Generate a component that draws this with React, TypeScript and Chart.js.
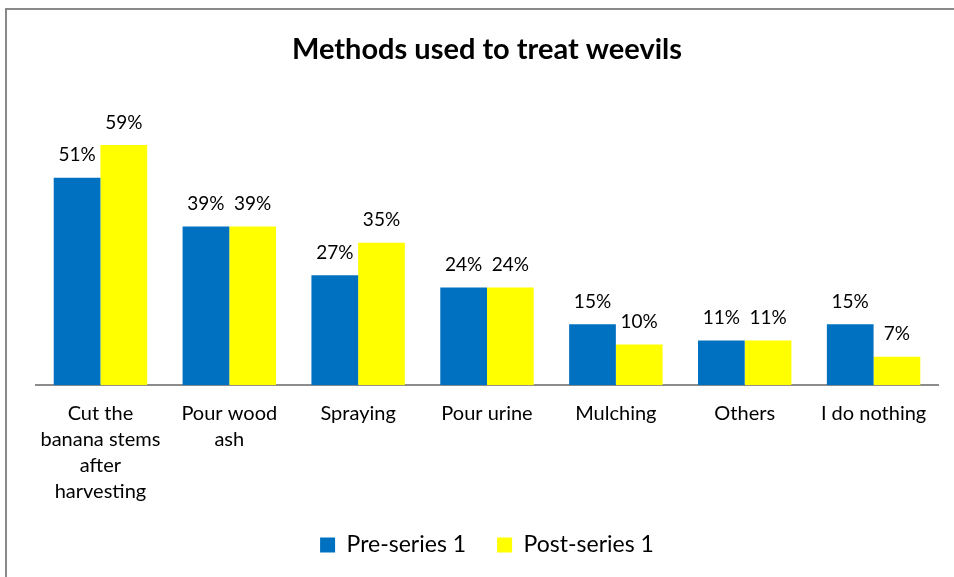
import React, { useEffect, useRef } from "react";
import { Chart, registerables } from "chart.js";

Chart.register(...registerables);

const categories: (string | string[])[] = [
  ["Cut the", "banana stems", "after", "harvesting"],
  ["Pour wood", "ash"],
  "Spraying",
  "Pour urine",
  "Mulching",
  "Others",
  "I do nothing",
];
const preSeries = [51, 39, 27, 24, 15, 11, 15];
const postSeries = [59, 39, 35, 24, 10, 11, 7];
const seriesNames = ["Pre-series 1", "Post-series 1"];
const chartTitle = "Methods used to treat weevils";

const FONT = "Lato, 'Open Sans', sans-serif";

// Draws the percentage above every bar
const barValueLabels = {
  id: "barValueLabels",
  afterDatasetsDraw(chart: Chart) {
    const { ctx } = chart;
    ctx.save();
    ctx.font = `19px ${FONT}`;
    ctx.fillStyle = "#000";
    ctx.textAlign = "center";
    ctx.textBaseline = "alphabetic";
    chart.data.datasets.forEach((ds, di) => {
      const meta = chart.getDatasetMeta(di);
      meta.data.forEach((el: any, i) => {
        const v = ds.data[i] as number;
        ctx.fillText(`${v}%`, el.x, el.y - 16.5);
      });
    });
    ctx.restore();
  },
};

export default function App() {
  const canvasRef = useRef<HTMLCanvasElement>(null);

  useEffect(() => {
    document.body.style.margin = "0";
    const chart = new Chart(canvasRef.current!, {
      type: "bar",
      data: {
        labels: categories,
        datasets: [
          {
            label: seriesNames[0],
            data: preSeries,
            backgroundColor: "#0070C0",
            categoryPercentage: 0.725,
            barPercentage: 1,
          },
          {
            label: seriesNames[1],
            data: postSeries,
            backgroundColor: "#FFFF00",
            categoryPercentage: 0.725,
            barPercentage: 1,
          },
        ],
      },
      options: {
        responsive: false,
        animation: false,
        devicePixelRatio: 1,
        layout: { padding: { left: 36, right: 16, top: 0, bottom: 10.5 } },
        scales: {
          y: { display: false, min: 0, max: 70 },
          x: {
            grid: { display: false, drawTicks: false },
            border: { display: true, color: "#8c8c8c", width: 2 },
            ticks: {
              color: "#000",
              font: { family: FONT, size: 20, lineHeight: 26 / 20 },
              padding: 15,
              maxRotation: 0,
              minRotation: 0,
              autoSkip: false,
            },
            afterFit(scale: any) {
              scale.height = 117.2;
            },
          },
        },
        plugins: {
          title: {
            display: true,
            text: chartTitle,
            color: "#000",
            font: { family: FONT, size: 29, weight: "bold", lineHeight: 1.2 },
            padding: { top: 32.6, bottom: 32.9 },
          },
          legend: {
            position: "bottom",
            labels: {
              color: "#000",
              font: { family: FONT, size: 23 },
              boxWidth: 15,
              boxHeight: 15,
              padding: 31,
            },
          },
          tooltip: { enabled: false },
        },
      },
      plugins: [barValueLabels],
    });
    return () => chart.destroy();
  }, []);

  return (
    <div
      style={{
        position: "absolute",
        left: 0,
        top: 0,
        width: 954,
        height: 577,
        overflow: "hidden",
        background: "#fff",
      }}
    >
      <div
        style={{
          position: "absolute",
          left: 5,
          top: 8,
          width: 2000,
          height: 2000,
          border: "2px solid #898989",
        }}
      />
      <canvas
        ref={canvasRef}
        width={954}
        height={577}
        style={{ position: "absolute", left: 0, top: 0, width: 954, height: 577 }}
      />
    </div>
  );
}
